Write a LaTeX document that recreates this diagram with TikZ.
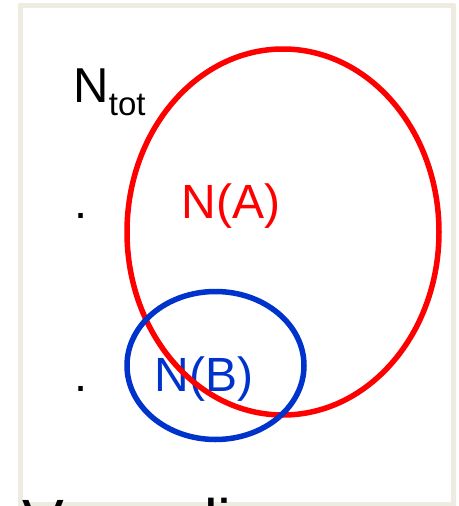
\documentclass[tikz,border=0pt]{standalone}
\usepackage{fontspec}
\setmainfont{Liberation Sans}
\usetikzlibrary{shapes.geometric}
\definecolor{framebeige}{RGB}{238,235,224}
\definecolor{setred}{RGB}{255,0,0}
\definecolor{setblue}{RGB}{0,51,204}
\tikzset{
  lbl/.style={inner sep=0pt, outer sep=0pt, anchor=base west},
  setring/.style={draw, ellipse, line width=5.5pt, inner sep=0pt},
}
\begin{document}
\begin{tikzpicture}[x=1pt, y=-1pt]
  \useasboundingbox (0,0) rectangle (458,506);
  \clip (0,0) rectangle (458,506);
  % slide panel with its light frame
  \fill[framebeige, rounded corners=2pt] (18,3) rectangle (456,515);
  \fill[white] (23,8) rectangle (451,502);
  % labels
  \node[lbl] (ntot) at (73.5,102.5)
    {\fontsize{49}{49}\selectfont N\raisebox{-13pt}{\fontsize{33}{33}\selectfont tot}};
  \node[lbl] (dotA) at (74.7,218) {\fontsize{47}{47}\selectfont .};
  \node[lbl] (dotB) at (74.7,391) {\fontsize{47}{47}\selectfont .};
  \node[lbl, text=setred] (na) at (181.5,218) {\fontsize{48}{48}\selectfont N(A)};
  \node[lbl, text=setblue] (nb) at (154.5,391) {\fontsize{48}{48}\selectfont N(B)};
  % the two sets
  \node[setring, draw=setred, minimum width=312pt, minimum height=366pt] (setA) at (283,232) {};
  \node[setring, draw=setblue, minimum width=177pt, minimum height=148pt] (setB) at (215.5,365.5) {};
  % caption below the panel
  \node[lbl] (caption) at (23,543.8) {\fontsize{62.6}{62.6}\selectfont Venn diagram};
\end{tikzpicture}
\end{document}
